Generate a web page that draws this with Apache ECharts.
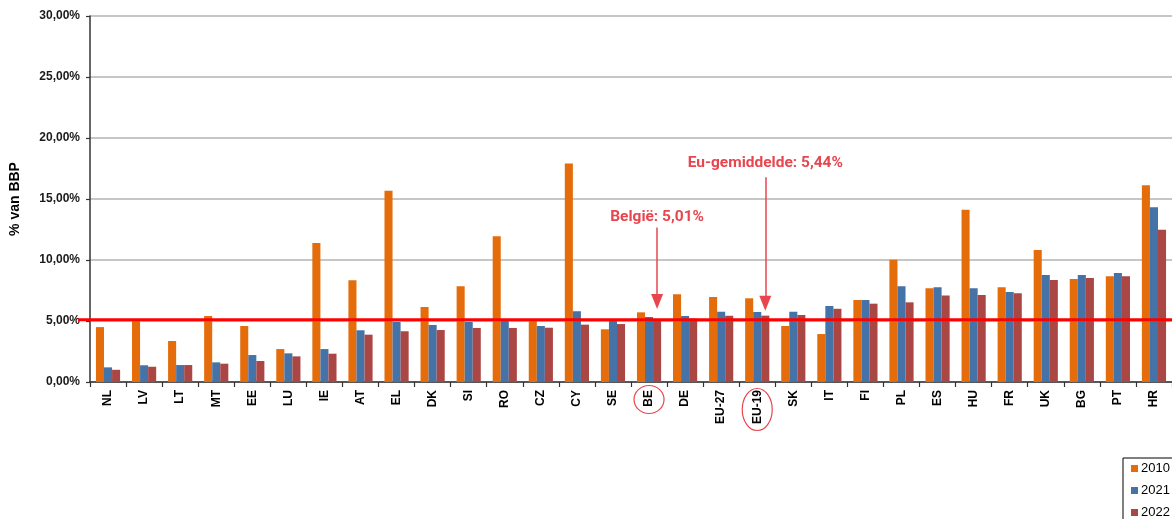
<!DOCTYPE html>
<html>
<head>
<meta charset="utf-8">
<script src="https://cdn.jsdelivr.net/npm/echarts@6/dist/echarts.min.js"></script>
<style>
  html, body { margin: 0; padding: 0; background: #ffffff; }
  #chart { width: 1172px; height: 519px; }
</style>
</head>
<body>
<div id="chart"></div>
<script>
// Country codes along the category axis
const categories = ['NL','LV','LT','MT','EE','LU','IE','AT','EL','DK','SI','RO','CZ','CY','SE','BE','DE','EU-27','EU-19','SK','IT','FI','PL','ES','HU','FR','UK','BG','PT','HR'];
const years = ['2010', '2021', '2022'];

// Share of GDP (%) per year
const values2010 = [4.50, 5.05, 3.36, 5.41, 4.59, 2.70, 11.39, 8.34, 15.68, 6.15, 7.84, 11.94, 5.10, 17.90, 4.32, 5.71, 7.19, 6.97, 6.86, 4.59, 3.93, 6.72, 10.02, 7.68, 14.12, 7.76, 10.82, 8.44, 8.66, 16.12];
const values2021 = [1.20, 1.37, 1.39, 1.61, 2.21, 2.35, 2.70, 4.24, 4.92, 4.67, 4.92, 5.05, 4.59, 5.80, 5.05, 5.33, 5.41, 5.76, 5.74, 5.76, 6.23, 6.72, 7.84, 7.76, 7.68, 7.38, 8.77, 8.77, 8.93, 14.32];
const values2022 = [1.00, 1.25, 1.39, 1.50, 1.72, 2.10, 2.32, 3.88, 4.16, 4.26, 4.43, 4.43, 4.45, 4.70, 4.75, 5.01, 5.20, 5.43, 5.44, 5.49, 6.00, 6.42, 6.53, 7.10, 7.13, 7.27, 8.36, 8.52, 8.66, 12.48];

// Value axis ticks
const yMin = 0, yMax = 30, yStep = 5;

// Horizontal red reference level (%)
const referenceLevel = 5.1;

// Callout arrows pointing at the 2022 bars (value range of the arrow shaft)
const callouts = [
  { category: 'BE',    prefix: 'België',        from: 12.67, to: 6.6,  gap: 2 },
  { category: 'EU-19', prefix: 'Eu-gemiddelde', from: 16.78, to: 6.45, gap: 6 }
];

// Axis labels circled below the axis
const circledLabels = [
  { category: 'BE',    rx: 15, ry: 14, dy: 17.5 },
  { category: 'EU-19', rx: 15, ry: 21, dy: 27.5 }
];

const pct = v => v.toFixed(2).replace('.', ',') + '%';
const calloutRed = '#E8464F';

const chart = echarts.init(document.getElementById('chart'), null, { renderer: 'canvas' });

const seriesColors = ['#E46C0A', '#4572A7', '#AA4643'];
const seriesValues = [values2010, values2021, values2022];

const option = {
  animation: false,
  backgroundColor: '#ffffff',
  textStyle: { fontFamily: '"Liberation Sans", Arial, sans-serif' },
  grid: { left: 89, right: -6, top: 16, bottom: 137, containLabel: false },
  legend: {
    data: years,
    orient: 'vertical',
    left: 1123,
    top: 458,
    width: 60,
    height: 90,
    padding: [4, 30, 10, 8],
    itemGap: 9,
    itemWidth: 7,
    itemHeight: 7,
    icon: 'rect',
    borderColor: '#000000',
    borderWidth: 1,
    borderRadius: 0,
    selectedMode: false,
    textStyle: { color: '#000000', fontSize: 13, fontFamily: '"Liberation Sans", Arial, sans-serif', padding: [0, 0, 0, -2] }
  },
  xAxis: {
    type: 'category',
    data: categories,
    boundaryGap: true,
    axisLine: { show: true, lineStyle: { color: '#333333', width: 1.5 } },
    axisTick: { show: true, inside: false, length: 5, alignWithLabel: false, lineStyle: { color: '#333333', width: 1.2 } },
    axisLabel: {
      rotate: 90,
      margin: 8,
      interval: 0,
      color: '#000000',
      fontWeight: 'bold',
      fontSize: 12,
      fontFamily: '"Liberation Sans", Arial, sans-serif'
    },
    splitLine: { show: false }
  },
  yAxis: {
    type: 'value',
    min: yMin,
    max: yMax,
    interval: yStep,
    name: '% van BBP',
    nameLocation: 'middle',
    nameRotate: 90,
    nameGap: 68,
    nameTextStyle: { color: '#000000', fontWeight: 'bold', fontSize: 14, fontFamily: '"Liberation Sans", Arial, sans-serif' },
    axisLine: { show: true, lineStyle: { color: '#333333', width: 1.5 } },
    axisTick: { show: true, inside: false, length: 4, lineStyle: { color: '#333333', width: 1.2 } },
    axisLabel: {
      margin: 10,
      color: '#1a1a1a',
      fontWeight: 'bold',
      fontSize: 12,
      fontFamily: '"Liberation Sans", Arial, sans-serif',
      formatter: v => pct(v)
    },
    splitLine: { show: true, lineStyle: { color: '#B3B3B3', width: 1.5 } }
  },
  series: years.map((y, i) => ({
    name: y,
    type: 'bar',
    data: seriesValues[i],
    barGap: '0%',
    barCategoryGap: '33%',
    itemStyle: { color: seriesColors[i] },
    emphasis: { disabled: true },
    silent: true,
    z: 2
  }))
};

// Arrow callouts on the 2022 series, aligned with its bars
const idx = c => categories.indexOf(c);
option.series[2].markLine = {
  silent: true,
  animation: false,
  symbol: ['none', 'triangle'],
  symbolSize: [12, 15],
  data: callouts.map(c => [
    {
      coord: [c.category, c.from],
      symbol: 'none',
      lineStyle: { color: calloutRed, width: 1.5, type: 'solid' },
      label: {
        show: true,
        position: 'start',
        distance: c.gap,
        formatter: c.prefix + ': ' + pct(values2022[idx(c.category)]),
        color: calloutRed,
        fontSize: 15.5,
        fontWeight: 'bold',
        fontFamily: 'Roboto, "Noto Sans", sans-serif'
      }
    },
    {
      coord: [c.category, c.to],
      symbol: 'triangle',
      symbolSize: [12, 15],
      itemStyle: { color: calloutRed }
    }
  ])
};

chart.setOption(option);

// Reference line and circled axis labels, placed through the axes
const yRef = chart.convertToPixel({ yAxisIndex: 0 }, referenceLevel);
const yZero = chart.convertToPixel({ yAxisIndex: 0 }, 0);
const xLeft = chart.convertToPixel({ xAxisIndex: 0 }, categories[0]) - 30;
const graphics = [
  {
    type: 'line',
    z: 100,
    silent: true,
    shape: { x1: xLeft, y1: yRef, x2: chart.getWidth() + 10, y2: yRef },
    style: { stroke: '#FF0000', lineWidth: 3 }
  }
];
circledLabels.forEach(c => {
  graphics.push({
    type: 'ellipse',
    z: 100,
    silent: true,
    shape: { cx: chart.convertToPixel({ xAxisIndex: 0 }, c.category), cy: yZero + c.dy, rx: c.rx, ry: c.ry },
    style: { fill: 'none', stroke: calloutRed, lineWidth: 1.2 }
  });
});
chart.setOption({ graphic: graphics });
</script>
</body>
</html>
